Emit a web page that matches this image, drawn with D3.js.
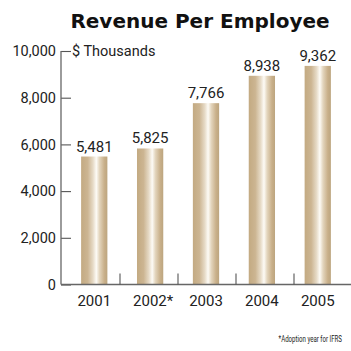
<!DOCTYPE html>
<html>
<head>
<meta charset="utf-8">
<script src="https://cdn.jsdelivr.net/npm/d3@7"></script>
<style>
  html, body { margin: 0; padding: 0; background: #fff; }
  svg { display: block; }
  .lbl { font-family: Roboto, "Open Sans", sans-serif; font-weight: 400; }
</style>
</head>
<body>
<svg id="chart" width="351" height="351"></svg>
<script>
// Revenue per employee, $ thousands
const years = ["2001", "2002*", "2003", "2004", "2005"];
const revenue = [5481, 5825, 7766, 8938, 9362];
const yTicks = [0, 2000, 4000, 6000, 8000, 10000];

const svg = d3.select("#chart");
const fmt = d3.format(",");

const axisX = 61, axisRight = 351;
const y = d3.scaleLinear().domain([0, 10000]).range([284.5, 51]);
const x = d3.scaleBand().domain(years).range([axisX, axisRight]).paddingInner(0.53).paddingOuter(0.36);
const xSlots = d3.scaleBand().domain(years).range([axisX + 1, axisRight + 1]);

// bar shading: tan edges with a bright highlight right of centre
const grad = svg.append("defs").append("linearGradient")
  .attr("id", "barGrad").attr("x1", "0").attr("x2", "1").attr("y1", "0").attr("y2", "0");
[[0, "#c3aa82"], [0.25, "#ccb592"], [0.45, "#e6dac6"], [0.58, "#fdfbf6"], [0.7, "#e3d5bd"], [0.88, "#c9b08a"], [1, "#bca57f"]]
  .forEach(([o, c]) => grad.append("stop").attr("offset", o).attr("stop-color", c));

// title
svg.append("text")
  .attr("x", 200).attr("y", 28)
  .attr("text-anchor", "middle")
  .style("font-family", "'DejaVu Sans', sans-serif")
  .style("font-weight", 700)
  .style("font-size", "20px")
  .attr("fill", "#111")
  .text("Revenue Per Employee");

// bars
svg.append("g").selectAll("rect")
  .data(revenue)
  .join("rect")
  .attr("x", (d, i) => x(years[i]))
  .attr("width", x.bandwidth())
  .attr("y", d => y(d))
  .attr("height", d => y(0) - y(d))
  .attr("fill", "url(#barGrad)");

// value labels
svg.append("g").attr("class", "lbl").selectAll("text")
  .data(revenue)
  .join("text")
  .attr("x", (d, i) => x(years[i]) + x.bandwidth() / 2)
  .attr("y", d => y(d) - 5)
  .attr("text-anchor", "middle")
  .style("font-size", "15px")
  .attr("fill", "#222")
  .text(d => fmt(d));

// y axis: ticks point inward
const yAxis = d3.axisLeft(y).tickValues(yTicks).tickFormat(fmt).tickSize(-10).tickPadding(4);
const gy = svg.append("g").attr("transform", `translate(${axisX},0)`).call(yAxis);
gy.select(".domain").remove();
gy.append("line").attr("x1", 0).attr("x2", 0).attr("y1", y(10000)).attr("y2", y(0))
  .attr("stroke", "#666").attr("stroke-width", 1.3);
gy.selectAll(".tick line").attr("stroke", "#555").attr("stroke-width", 1.1);
gy.selectAll(".tick text").attr("fill", "#222").attr("x", -5)
  .style("font-size", "14.5px").style("font-family", "Roboto, sans-serif");

// unit label
svg.append("text").attr("class", "lbl")
  .attr("x", 72).attr("y", y(10000) + 5)
  .style("font-size", "14.5px").attr("fill", "#222")
  .text("$ Thousands");

// x axis baseline with separator ticks between categories
const gx = svg.append("g");
gx.append("line").attr("x1", axisX).attr("x2", axisRight).attr("y1", y(0)).attr("y2", y(0))
  .attr("stroke", "#666").attr("stroke-width", 1.6);
gx.selectAll("line.sep")
  .data(years.slice(1))
  .join("line").attr("class", "sep")
  .attr("x1", d => xSlots(d)).attr("x2", d => xSlots(d))
  .attr("y1", y(0) - 11).attr("y2", y(0))
  .attr("stroke", "#555").attr("stroke-width", 1.1);

// category labels
svg.append("g").attr("class", "lbl").selectAll("text")
  .data(years)
  .join("text")
  .attr("x", d => x(d) + x.bandwidth() / 2 + (d.endsWith("*") ? 3 : 0))
  .attr("y", 306)
  .attr("text-anchor", "middle")
  .style("font-size", "15px").attr("fill", "#222")
  .text(d => d);

// footnote, horizontally condensed
svg.append("g")
  .attr("transform", "translate(342,342) scale(0.72,1)")
  .append("text").attr("class", "lbl")
  .attr("text-anchor", "end")
  .style("font-size", "8.5px").attr("fill", "#222")
  .text("*Adoption year for IFRS");
</script>
</body>
</html>
